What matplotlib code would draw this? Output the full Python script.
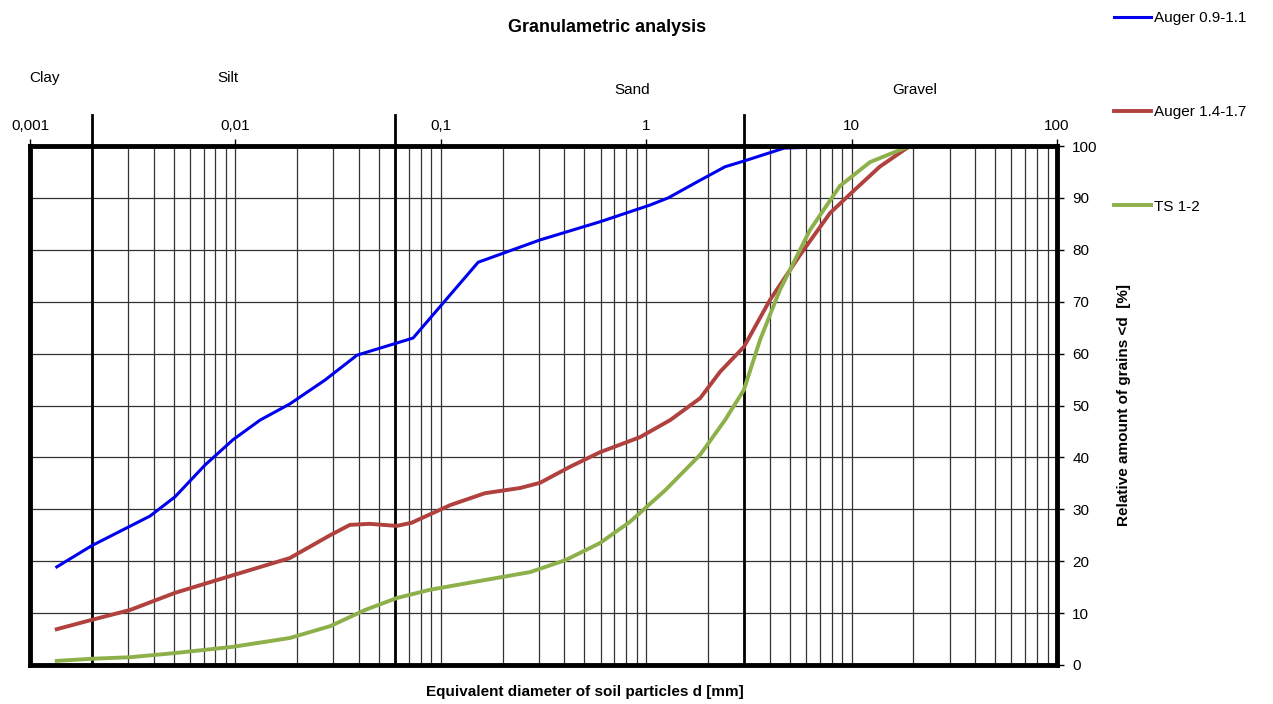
import matplotlib.pyplot as plt
from matplotlib.ticker import LogLocator, FixedLocator, FixedFormatter, NullFormatter

plt.rcParams['font.family'] = ['Liberation Sans', 'DejaVu Sans']

# grain size (mm) and passing (%)
auger_09_d = [0.00135, 0.002, 0.00384, 0.00508, 0.0071, 0.00973, 0.0132, 0.0184,
              0.0273, 0.0391, 0.0733, 0.152, 0.304, 0.596, 1.04, 1.28, 1.83, 2.42,
              2.99, 4.7, 10, 20, 36]
auger_09_p = [18.9, 23.0, 28.7, 32.4, 38.5, 43.4, 47.2, 50.3,
              54.9, 59.7, 63.0, 77.6, 81.9, 85.4, 88.6, 90.0, 93.4, 96.0,
              97.1, 99.6, 100, 100, 100]

auger_14_d = [0.00135, 0.002, 0.00307, 0.00508, 0.00973, 0.0184, 0.0289, 0.0361,
              0.045, 0.061, 0.072, 0.111, 0.164, 0.243, 0.304, 0.426, 0.596, 0.933,
              1.31, 1.83, 2.29, 2.99, 4.0, 5.61, 7.86, 10, 13.7, 19.2]
auger_14_p = [6.9, 8.7, 10.6, 13.9, 17.3, 20.6, 25.0, 27.0,
              27.2, 26.8, 27.4, 30.8, 33.1, 34.1, 35.1, 38.2, 41.0, 43.9,
              47.2, 51.4, 56.5, 61.3, 70.3, 79.0, 87.1, 91.0, 96.0, 100]

ts_d = [0.00135, 0.002, 0.00307, 0.00508, 0.0097, 0.0184, 0.029, 0.0428, 0.061,
        0.0886, 0.155, 0.272, 0.404, 0.596, 0.834, 1.24, 1.83, 2.42, 2.99, 3.58,
        4.48, 6.27, 8.77, 12.3, 19.2, 37]
ts_p = [0.8, 1.2, 1.5, 2.3, 3.5, 5.2, 7.5, 10.6, 12.9,
        14.5, 16.2, 17.9, 20.2, 23.5, 27.6, 33.7, 40.5, 47.2, 53.0, 62.6,
        72.3, 83.8, 92.3, 96.9, 100, 100]

x_ticks = [0.001, 0.01, 0.1, 1, 10, 100]
x_tick_labels = ['0,001', '0,01', '0,1', '1', '10', '100']
boundaries = [0.002, 0.06, 3]
soil_classes = ['Clay', 'Silt', 'Sand', 'Gravel']

fig = plt.figure(figsize=(12.73, 7.04), dpi=100)
ax = fig.add_axes([30 / 1273, 39 / 704, 1027 / 1273, 519 / 704])

ax.set_xscale('log')
ax.set_xlim(0.001, 100)
ax.set_ylim(0, 100)

# grid
ax.xaxis.set_major_locator(FixedLocator(x_ticks))
ax.xaxis.set_major_formatter(FixedFormatter(x_tick_labels))
ax.xaxis.set_minor_locator(LogLocator(base=10, subs=range(2, 10), numticks=20))
ax.xaxis.set_minor_formatter(NullFormatter())
ax.yaxis.set_major_locator(FixedLocator(range(0, 101, 10)))
ax.grid(True, which='both', axis='x', color='#333333', lw=0.9)
ax.grid(True, which='major', axis='y', color='#333333', lw=0.9)
ax.set_axisbelow(True)

# soil class boundaries
for b in boundaries:
    ax.plot([b, b], [0, 106], color='black', lw=2, clip_on=False, zorder=3)

l1, = ax.plot(auger_09_d, auger_09_p, color='#0000EE', lw=2.2, zorder=4, label='Auger 0.9-1.1')
l2, = ax.plot(auger_14_d, auger_14_p, color='#B0413E', lw=2.8, zorder=4, label='Auger 1.4-1.7')
l3, = ax.plot(ts_d, ts_p, color='#8DB04A', lw=2.8, zorder=4, label='TS 1-2')

# ticks: x labels on top, y labels on right
ax.xaxis.tick_top()
ax.tick_params(axis='x', which='major', length=5, width=1, labelsize=11, pad=4)
ax.tick_params(axis='x', which='minor', length=0)
ax.yaxis.tick_right()
ax.yaxis.set_label_position('right')
ax.tick_params(axis='y', length=5, width=1, labelsize=11, pad=6)

for s in ax.spines.values():
    s.set_linewidth(3.5)
    s.set_zorder(5)

ax.set_ylabel('Relative amount of grains <d  [%]', fontsize=11, fontweight='bold', labelpad=14)
fig.text(585 / 1273, 1 - 692 / 704, 'Equivalent diameter of soil particles d [mm]',
         ha='center', va='center', fontsize=11, fontweight='bold')
fig.text(607 / 1273, 1 - 27 / 704, 'Granulametric analysis',
         ha='center', va='center', fontsize=13, fontweight='bold')

class_pos = [(45, 78), (228, 78), (632, 90), (915, 90)]
for name, (px, py) in zip(soil_classes, class_pos):
    fig.text(px / 1273, 1 - py / 704, name, ha='center', va='center', fontsize=11)

fig.legend(handles=[l1, l2, l3], loc='upper left', bbox_to_anchor=(1108 / 1273, 1 - 5 / 704),
           frameon=False, fontsize=11, handlelength=2.4, handletextpad=0.2,
           labelspacing=5.25, borderaxespad=0)

fig.savefig('out.png', dpi=100)
